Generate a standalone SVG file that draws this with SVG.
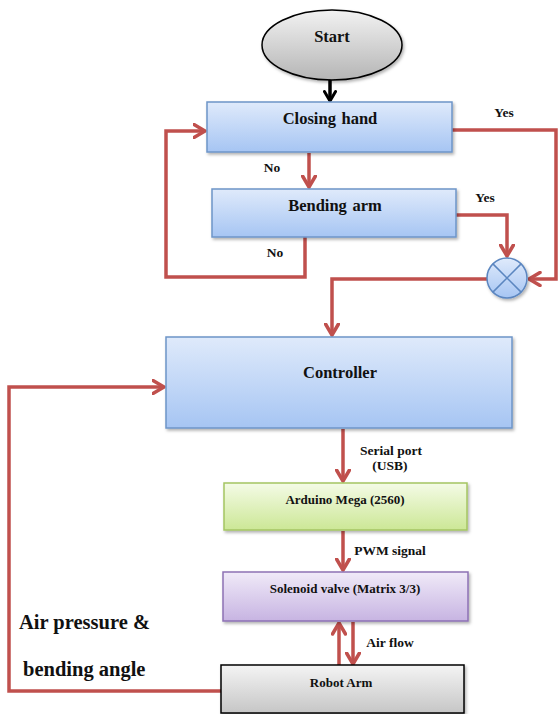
<svg xmlns="http://www.w3.org/2000/svg" width="558" height="714" viewBox="0 0 558 714" font-family="'Liberation Serif', 'Times New Roman', 'DejaVu Serif', serif">
<defs>
<linearGradient id="gBlue" x1="0" y1="0" x2="0" y2="1"><stop offset="0" stop-color="#dfeafb"/><stop offset="1" stop-color="#a6c5f3"/></linearGradient>
<linearGradient id="gGreen" x1="0" y1="0" x2="0" y2="1"><stop offset="0" stop-color="#f4fbe6"/><stop offset="1" stop-color="#cce796"/></linearGradient>
<linearGradient id="gPurple" x1="0" y1="0" x2="0" y2="1"><stop offset="0" stop-color="#f0eaf8"/><stop offset="1" stop-color="#c7b4e2"/></linearGradient>
<linearGradient id="gGrey" x1="0" y1="0" x2="0" y2="1"><stop offset="0" stop-color="#f4f4f4"/><stop offset="1" stop-color="#c6c6c6"/></linearGradient>
<linearGradient id="gStart" x1="0" y1="0" x2="0" y2="1"><stop offset="0" stop-color="#f2f2f2"/><stop offset="1" stop-color="#b5b5b5"/></linearGradient>
<filter id="sh" x="-10%" y="-10%" width="130%" height="140%"><feDropShadow dx="1.5" dy="2" stdDeviation="1.5" flood-color="#000" flood-opacity="0.3"/></filter>
<marker id="ar" viewBox="0 0 14 16" markerWidth="14" markerHeight="16" refX="12.5" refY="8" orient="auto" markerUnits="userSpaceOnUse"><path d="M1.5,1.5 L12.5,8 L1.5,14.5" fill="none" stroke="#c0504d" stroke-width="3.5" stroke-linecap="round" stroke-linejoin="round"/></marker>
<marker id="arB" viewBox="0 0 14 16" markerWidth="12" markerHeight="14" refX="12.5" refY="8" orient="auto" markerUnits="userSpaceOnUse"><path d="M1.5,1.5 L12.5,8 L1.5,14.5" fill="none" stroke="#000" stroke-width="3.5" stroke-linecap="round" stroke-linejoin="round"/></marker>
</defs>
<style>
text{font-family:'Liberation Serif','Times New Roman','DejaVu Serif',serif;font-weight:bold;fill:#111;text-anchor:middle}
.big{font-size:16.5px;word-spacing:1.5px}
.mid{font-size:13px}
.lbl{font-size:13.5px}
.huge{font-size:20.5px;text-anchor:start}
.ln{fill:none;stroke:#c0504d;stroke-width:3.5;stroke-linejoin:miter}
.box{stroke-width:1.5}
</style>
<rect width="558" height="714" fill="#fff"/>

<g id="connectors">
<path d="M330,80 L330,101" fill="none" stroke="#000" stroke-width="3.5" marker-end="url(#arB)"/>
<path class="ln" d="M309,153 L309,187" marker-end="url(#ar)"/>
<path class="ln" d="M305,237 L305,277 L166,277 L166,131 L205,131" marker-end="url(#ar)"/>
<path class="ln" d="M452,130 L556,130 L556,279 L529,279" marker-end="url(#ar)"/>
<path class="ln" d="M456,215 L507,215 L507,256" marker-end="url(#ar)"/>
<path class="ln" d="M487,279 L332,279 L332,335" marker-end="url(#ar)"/>
<path class="ln" d="M343,429 L343,481" marker-end="url(#ar)"/>
<path class="ln" d="M343,531 L343,570" marker-end="url(#ar)"/>
<path class="ln" d="M339,665 L339,623" marker-end="url(#ar)"/>
<path class="ln" d="M353,622 L353,664" marker-end="url(#ar)"/>
<path class="ln" d="M221,691 L9,691 L9,387 L164,387" marker-end="url(#ar)"/>
<text class="lbl" x="504" y="117">Yes</text>
<text class="lbl" x="485" y="202">Yes</text>
<text class="lbl" x="272" y="172">No</text>
<text class="lbl" x="275" y="257">No</text>
<text class="lbl" x="391" y="455">Serial port</text>
<text class="lbl" x="390" y="470">(USB)</text>
<text class="lbl" x="390" y="555">PWM signal</text>
<text class="lbl" x="390" y="647">Air flow</text>
<text class="huge" x="19" y="629">Air pressure &amp;</text>
<text class="huge" x="23" y="676">bending angle</text>
</g>

<g id="start">
<ellipse cx="332" cy="45" rx="70" ry="35" fill="url(#gStart)" stroke="#000" stroke-width="1.5" filter="url(#sh)"/>
<text class="big" x="332" y="42">Start</text>
</g>

<g id="closing-hand">
<rect class="box" x="207" y="102" width="245" height="50" fill="url(#gBlue)" stroke="#6d95c8" filter="url(#sh)"/>
<text class="big" x="330" y="124">Closing hand</text>
</g>

<g id="bending-arm">
<rect class="box" x="212" y="189" width="244" height="48" fill="url(#gBlue)" stroke="#6d95c8" filter="url(#sh)"/>
<text class="big" x="335" y="211">Bending arm</text>
</g>

<g id="junction">
<circle cx="507" cy="278" r="20" fill="url(#gBlue)" stroke="#5b86c0" stroke-width="1.5" filter="url(#sh)"/>
<path d="M492.9,263.9 L521.1,292.1 M521.1,263.9 L492.9,292.1" stroke="#5b86c0" stroke-width="1.5"/>
</g>

<g id="controller">
<rect class="box" x="166" y="337" width="346" height="91" fill="url(#gBlue)" stroke="#6d95c8" filter="url(#sh)"/>
<text class="big" x="340" y="378">Controller</text>
</g>

<g id="arduino">
<rect class="box" x="224" y="483" width="243" height="47" fill="url(#gGreen)" stroke="#a4c562" filter="url(#sh)"/>
<text class="mid" x="345" y="504">Arduino Mega (2560)</text>
</g>

<g id="solenoid">
<rect class="box" x="223" y="572" width="245" height="49" fill="url(#gPurple)" stroke="#8d71b4" filter="url(#sh)"/>
<text class="mid" x="345" y="593">Solenoid valve (Matrix 3/3)</text>
</g>

<g id="robot-arm">
<rect class="box" x="221" y="665" width="243" height="48" fill="url(#gGrey)" stroke="#000" filter="url(#sh)"/>
<text class="mid" x="341" y="687">Robot Arm</text>
</g>
</svg>
